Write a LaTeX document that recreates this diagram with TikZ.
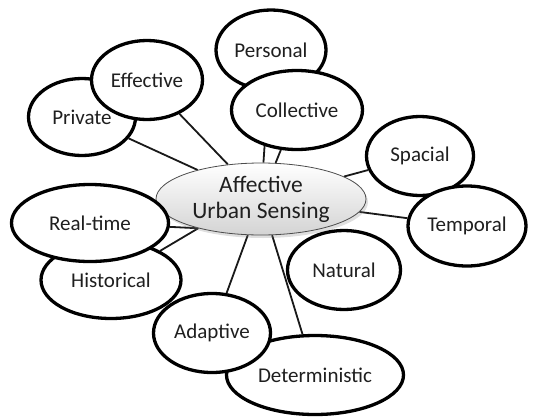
\documentclass[tikz,border=0pt]{standalone}
\usepackage{fontspec}
\setmainfont{Carlito}
\usepackage{tikz}
\usetikzlibrary{shapes.geometric,shadows,backgrounds}

\begin{document}
\begin{tikzpicture}[x=1pt,y=-1pt,
		leaf/.style={ellipse,draw=black,line width=3.3pt,fill=white,inner sep=0pt,
			text=black!88,font=\fontsize{21}{24}\selectfont},
		link/.style={draw=black!90,line width=1.8pt}]
			\useasboundingbox (0,0) rectangle (535,418);
			\node[ellipse,draw=black!70,line width=0.8pt,top color=white,bottom color=black!17,
				drop shadow={opacity=0.25,shadow xshift=2pt,shadow yshift=-3pt},
				minimum width=210pt,minimum height=72pt,inner sep=0pt,align=center,
				text=black!88,font=\fontsize{23.5}{26}\selectfont] (hub) at (261,199) {Affective\\Urban Sensing};
			\node[leaf,minimum width=107pt,minimum height=77pt] (private) at (82,117) {Private};
			\node[leaf,minimum width=111pt,minimum height=79pt] (effective) at (147,80) {Effective};
			\node[leaf,minimum width=110pt,minimum height=80pt] (personal) at (271,50) {Personal};
			\node[leaf,minimum width=131pt,minimum height=79pt] (collective) at (297,110) {Collective};
			\node[leaf,minimum width=107pt,minimum height=79pt] (spacial) at (420,156) {Spacial};
			\node[leaf,minimum width=118pt,minimum height=80pt] (temporal) at (467,226) {Temporal};
			\node[leaf,minimum width=113pt,minimum height=79pt] (natural) at (344,270) {Natural};
			\node[leaf,minimum width=177pt,minimum height=79pt] (deterministic) at (315,375) {Deterministic};
			\node[leaf,minimum width=117pt,minimum height=79pt] (adaptive) at (212,333) {Adaptive};
			\node[leaf,minimum width=140pt,minimum height=77pt] (historical) at (111,280) {Historical};
			\node[leaf,minimum width=157pt,minimum height=77pt] (realtime) at (90,223) {Real-time};
			\begin{scope}[on background layer]
				\draw[link] (hub) -- (private);
				\draw[link] (hub) -- (effective);
				\draw[link] (hub) -- (personal);
				\draw[link] (hub) -- (collective);
				\draw[link] (hub) -- (spacial);
				\draw[link] (hub) -- (temporal);
				\draw[link] (hub) -- (deterministic);
				\draw[link] (hub) -- (adaptive);
				\draw[link] (hub.205) -- (historical);
				\draw[link] (hub.205) -- (realtime);
			\end{scope}
		\end{tikzpicture}
\end{document}
